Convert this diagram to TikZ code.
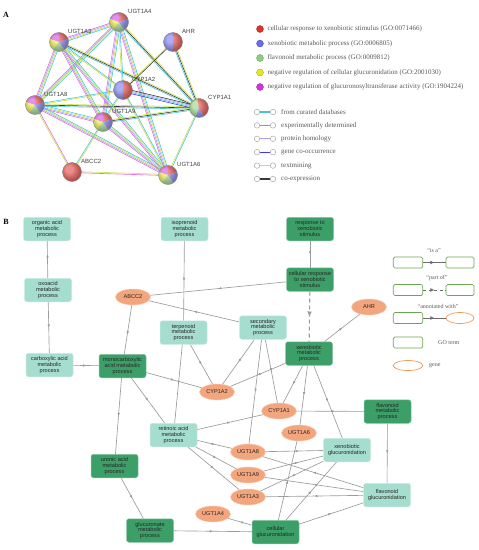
\documentclass[tikz,border=0pt]{standalone}
\usepackage{fontspec}
\setmainfont{Liberation Serif}
\newfontfamily\arialfont{Liberation Sans}
\usetikzlibrary{calc,shapes.geometric,decorations.markings,arrows.meta,backgrounds}

\definecolor{golight}{HTML}{A5DDCE}
\definecolor{godark}{HTML}{3C9F68}
\definecolor{genefill}{HTML}{F3A57D}
\definecolor{reledge}{HTML}{9B9B9B}
\definecolor{lgline}{HTML}{6E6E6E}
\definecolor{lgbox}{HTML}{6AA84F}
\definecolor{lggene}{HTML}{F39A55}
\definecolor{tred}{HTML}{E2302B}
\definecolor{tblue}{HTML}{6B6BEF}
\definecolor{tgreen}{HTML}{8CCF7A}
\definecolor{tyellow}{HTML}{E6E61E}
\definecolor{tmag}{HTML}{CF35DF}
\definecolor{ecyan}{HTML}{45C4DA}
\definecolor{emag}{HTML}{E06BDF}
\definecolor{epur}{HTML}{A9A2F2}
\definecolor{eblue}{HTML}{3C3CEF}
\definecolor{elime}{HTML}{CDE24A}
\definecolor{eblk}{HTML}{3A3A3A}

\tikzset{
  goterm/.style={rectangle, rounded corners=2.5pt, fill=golight, draw=golight!60!white,
    line width=0.5pt, minimum width=47pt, minimum height=23.5pt, inner sep=0pt,
    align=center, text=black!85, font=\arialfont\fontsize{5.6}{5.9}\selectfont},
  gotermdark/.style={goterm, fill=godark, draw=godark!60!white},
  gene/.style={ellipse, fill=genefill, draw=genefill!60!white, line width=0.5pt,
    minimum width=35pt, minimum height=16pt, inner sep=0pt, text=black!85,
    font=\arialfont\fontsize{5.6}{5.9}\selectfont},
  isa/.style={color=reledge, line width=0.65pt, postaction={decorate},
    decoration={markings, mark=at position 0.5 with {\arrow{Latex[length=3pt,width=2.6pt]}}}},
  partof/.style={color=reledge, line width=1.1pt, dash pattern=on 4pt off 3pt, postaction={decorate},
    decoration={markings, mark=at position 0.5 with {\arrow{Latex[length=5pt,width=5pt]}}}},
  keyrel/.style={color=lgline, line width=0.9pt, postaction={decorate},
    decoration={markings, mark=at position 0.5 with {\arrow{Latex[length=4pt,width=4pt]}}}},
  gokey/.style={rectangle, rounded corners=1.5pt, draw=lgbox, fill=white, line width=0.7pt,
    minimum width=29.5pt, minimum height=11pt, inner sep=0pt},
  genekey/.style={ellipse, draw=lggene, fill=white, line width=0.7pt,
    minimum width=28pt, minimum height=11pt, inner sep=0pt},
  keytext/.style={text=black!65, inner sep=0pt, font=\fontsize{7}{8}\selectfont},
  keytextb/.style={text=black!65, inner sep=0pt, font=\fontsize{6}{7}\selectfont},
  balllbl/.style={text=black!75, inner sep=0pt, anchor=west, font=\arialfont\fontsize{6}{7}\selectfont},
  ring/.style={circle, draw=black!35, fill=white, line width=0.5pt, minimum size=5.5pt, inner sep=0pt},
  panellbl/.style={inner sep=0pt, font=\bfseries\fontsize{8}{9}\selectfont}
}

% string network ball: name, position, label, sectors macro
\newcommand\protball[4]{%
  \node[circle, minimum size=19pt, inner sep=0pt] (#1) at (#2) {};
  \foreach \col/\sa/\ea in #4
    {\fill[\col] (#1.center) -- ($(#1.center)+(\sa:9.5pt)$)
      arc[start angle=\sa, end angle=\ea, radius=9.5pt] -- cycle;}
  \shade[ball color=white, opacity=0.45] (#1.center) circle[radius=9.5pt];
  \draw[black!45, line width=0.4pt] (#1.center) circle[radius=9.5pt];
  \node[balllbl] (#1lbl) at ($(#1.center)+(9pt,11pt)$) {#3};
}
% bundle of coloured lines between two balls
\newcommand\stredge[3]{%
  \foreach \c/\o in #3
    {\draw[\c, line width=0.6pt] ($(#1)!\o pt!90:(#2)$) -- ($(#2)!\o pt!-90:(#1)$);}
}
\def\ugtset{emag/-1.7,epur/-0.57,elime/0.57,ecyan/1.7}
\def\cypset{ecyan/-1.15,eblk/0,elime/1.15}
\def\duoset{elime/-0.57,ecyan/0.57}
\def\pairset{emag/-0.57,elime/0.57}
\def\cypcyp{eblue/-1.7,ecyan/-0.57,epur/0.57,eblk/1.7}
\def\ahrset{elime/-0.57,eblk/0.57}
\def\ugtsectors{tred/18/90,tmag/90/162,tyellow/162/234,tgreen/234/306,tblue/306/378}
\def\halfsectors{tblue/90/270,tred/270/450}
\def\cypsectors{tgreen/100/250,tblue/250/300,tred/300/460}
\def\redsectors{tred/0/360}

\begin{document}
\begin{tikzpicture}[x=1pt,y=-1pt]
\useasboundingbox (0,0) rectangle (479,550);

% ---------------- panel A
\node[panellbl] (labA) at (6,15) {A};
\foreach \n/\x/\y in {aA4/119/22, aA3/59/42, aAHR/173/42, aCYP2/123/90, aA8/35/105,
    aCYP1/199/108, aA9/103/122, aABC/72/172, aA6/168/175}
  {\coordinate (\n) at (\x,\y);}

\begin{pgfonlayer}{background}
  \foreach \s/\t in {aA4/aA3, aA4/aA8, aA4/aA9, aA4/aA6, aA3/aA8, aA3/aA9, aA3/aA6,
      aA8/aA9, aA8/aA6, aA9/aA6}
    {\stredge{\s}{\t}{\ugtset}}
  \foreach \s/\t in {aA4/aCYP1, aA3/aCYP1, aA8/aCYP1, aA9/aCYP1}
    {\stredge{\s}{\t}{\cypset}}
  \foreach \s/\t in {aA4/aCYP2, aA3/aCYP2, aA8/aCYP2, aA9/aCYP2, aCYP2/aA6, aCYP1/aA6, aABC/aA9}
    {\stredge{\s}{\t}{\duoset}}
  \foreach \s/\t in {aABC/aA8, aABC/aA6}
    {\stredge{\s}{\t}{\pairset}}
  \stredge{aCYP2}{aCYP1}{\cypcyp}
  \stredge{aAHR}{aCYP1}{\cypset}
  \stredge{aAHR}{aCYP2}{\ahrset}
\end{pgfonlayer}

\protball{bA4}{aA4}{UGT1A4}{\ugtsectors}
\protball{bA3}{aA3}{UGT1A3}{\ugtsectors}
\protball{bAHR}{aAHR}{AHR}{\halfsectors}
\protball{bCYP2}{aCYP2}{CYP1A2}{\halfsectors}
\protball{bA8}{aA8}{UGT1A8}{\ugtsectors}
\protball{bCYP1}{aCYP1}{CYP1A1}{\cypsectors}
\protball{bA9}{aA9}{UGT1A9}{\ugtsectors}
\protball{bABC}{aABC}{ABCC2}{\redsectors}
\protball{bA6}{aA6}{UGT1A6}{\ugtsectors}

% legend A
\foreach \c/\t [count=\i] in {tred/{cellular response to xenobiotic stimulus (GO:0071466)},
    tblue/{xenobiotic metabolic process (GO:0006805)},
    tgreen/{flavonoid metabolic process (GO:0009812)},
    tyellow/{negative regulation of cellular glucuronidation (GO:2001030)},
    tmag/{negative regulation of glucuronosyltransferase activity (GO:1904224)}}
{
  \node[circle, fill=\c, draw=\c!70!black, line width=0.3pt, minimum size=7pt, inner sep=0pt]
    (tdot\i) at (260,14.5+14.5*\i) {};
  \node[keytext, anchor=west] (tkey\i) at (267.5,14.5+14.5*\i) {\t};
}
\foreach \c/\t [count=\i] in {ecyan/from curated databases, emag/experimentally determined,
    epur/protein homology, eblue/gene co-occurrence, elime/textmining, eblk/co-expression}
{
  \node[ring] (eka\i) at (257,98.6+13.4*\i) {};
  \node[ring] (ekb\i) at (273,98.6+13.4*\i) {};
  \draw[\c, line width=1.1pt] (eka\i) -- (ekb\i);
  \node[keytext, anchor=west] (ekt\i) at (281,98.6+13.4*\i) {\t};
}

% ---------------- panel B
\node[panellbl] (labB) at (6,222) {B};

\node[goterm] (orgAcid) at (47,229) {organic acid\\metabolic\\process};
\node[goterm] (isopren) at (184.5,229) {isoprenoid\\metabolic\\process};
\node[goterm] (oxoacid) at (48,290) {oxoacid\\metabolic\\process};
\node[goterm] (terpen) at (183.5,332.5) {terpenoid\\metabolic\\process};
\node[goterm] (carbox) at (49.5,365) {carboxylic acid\\metabolic\\process};
\node[gotermdark] (monocarb) at (122.5,366) {monocarboxylic\\acid metabolic\\process};
\node[gotermdark] (respXeno) at (310,229) {response to\\xenobiotic\\stimulus};
\node[gotermdark] (cellResp) at (310,279.5) {cellular response\\to xenobiotic\\stimulus};
\node[goterm] (secMet) at (263,327.5) {secondary\\metabolic\\process};
\node[gotermdark] (xenoMet) at (309,353.5) {xenobiotic\\metabolic\\process};
\node[goterm] (retinoic) at (173.5,435) {retinoic acid\\metabolic\\process};
\node[gotermdark] (uronic) at (114.5,466) {uronic acid\\metabolic\\process};
\node[gotermdark] (glucuron) at (150,530.5) {glucuronate\\metabolic\\process};
\node[gotermdark] (flavMet) at (387.5,411.5) {flavonoid\\metabolic\\process};
\node[goterm] (xenoGluc) at (347,450) {xenobiotic\\glucuronidation};
\node[goterm] (flavGluc) at (387,495) {flavonoid\\glucuronidation};
\node[gotermdark] (cellGluc) at (275.5,532) {cellular\\glucuronidation};

\node[gene] (abcc) at (133,297) {ABCC2};
\node[gene] (ahr) at (369,307) {AHR};
\node[gene] (cypA2) at (217,392) {CYP1A2};
\node[gene] (cypA1) at (279,411) {CYP1A1};
\node[gene] (ugtA6) at (299,433) {UGT1A6};
\node[gene] (ugtA8) at (248,452) {UGT1A8};
\node[gene] (ugtA9) at (248,475) {UGT1A9};
\node[gene] (ugtA3) at (248,497) {UGT1A3};
\node[gene] (ugtA4) at (213,514) {UGT1A4};

\begin{pgfonlayer}{background}
  \foreach \p/\c in {orgAcid/oxoacid, oxoacid/carbox, carbox/monocarb, isopren/terpen,
      monocarb/abcc, cellResp/abcc, secMet/abcc, terpen/cypA2, terpen/retinoic,
      secMet/cypA2, secMet/ugtA8, secMet/cypA1, xenoMet/cypA2, xenoMet/ahr,
      xenoMet/cypA1, xenoMet/ugtA6, xenoMet/xenoGluc, respXeno/cellResp,
      monocarb/cypA2, monocarb/uronic, monocarb/retinoic, uronic/glucuron,
      glucuron/cellGluc, retinoic/cypA1, retinoic/ugtA8, retinoic/ugtA9, retinoic/ugtA3,
      flavMet/cypA1, flavMet/flavGluc, xenoGluc/ugtA8, xenoGluc/ugtA9, xenoGluc/ugtA3,
      cellGluc/xenoGluc, cellGluc/flavGluc, cellGluc/ugtA6, cellGluc/ugtA4,
      flavGluc/ugtA8, flavGluc/ugtA9, flavGluc/ugtA3}
    {\draw[isa] (\p) -- (\c);}
  \draw[partof] (cellResp) -- (xenoMet);
\end{pgfonlayer}

% legend B
\node[keytextb] (isaT) at (434,251) {“is a”};
\node[gokey] (isaA) at (408,262.5) {};
\node[gokey, minimum width=28pt] (isaB) at (460,262.5) {};
\draw[keyrel] (isaA) -- (isaB);

\node[keytextb] (partT) at (437,278) {“part of”};
\node[gokey] (partA) at (408,290) {};
\node[gokey, minimum width=28pt] (partB) at (460,290) {};
\draw[keyrel, dash pattern=on 3pt off 2.5pt] (partA) -- (partB);

\node[keytextb] (annT) at (438,306) {“annotated with”};
\node[gokey] (annA) at (408,318) {};
\node[genekey] (annB) at (460,318) {};
\draw[keyrel] (annA) -- (annB);

\node[gokey] (goKey) at (408,342.5) {};
\node[keytextb, anchor=west] (goKeyT) at (438,342.5) {GO term};
\node[genekey, minimum width=29.5pt, minimum height=10pt] (geneKey) at (408,365.5) {};
\node[keytextb, anchor=west] (geneKeyT) at (429,365.5) {gene};
\end{tikzpicture}
\end{document}
